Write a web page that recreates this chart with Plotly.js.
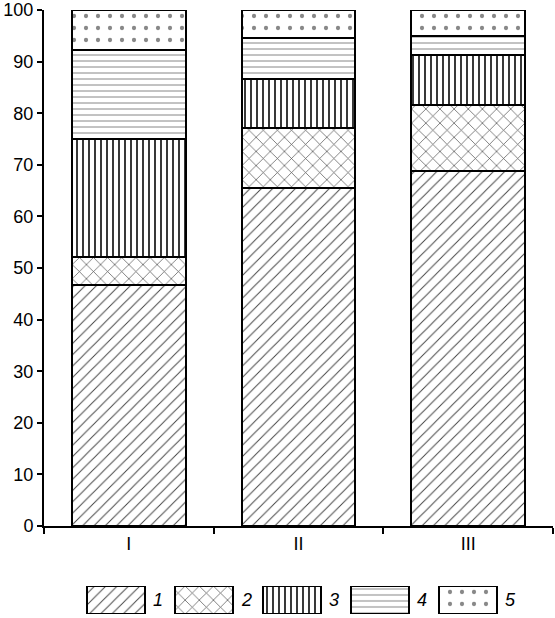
<!DOCTYPE html>
<html>
<head>
<meta charset="utf-8">
<script src="https://cdn.plot.ly/plotly-3.0.1.min.js"></script>
<style>html,body{margin:0;padding:0;background:#fff;}#chart{width:555px;height:618px;}</style>
</head>
<body>
<div id="chart"></div>
<script>
const categories = ["I", "II", "III"];
const seriesNames = ["1", "2", "3", "4", "5"];
const s1 = [46.8, 65.5, 68.8];
const s2 = [5.3, 11.7, 12.7];
const s3 = [22.9, 9.5, 9.8];
const s4 = [17.2, 7.8, 3.6];
const s5 = [7.8, 5.5, 5.1];
const yTicks = [0, 10, 20, 30, 40, 50, 60, 70, 80, 90, 100];

const seriesValues = [s1, s2, s3, s4, s5];
const patterns = [
  {shape: "/", fgcolor: "#444", bgcolor: "#fff", size: 8, solidity: 0.12},
  {shape: "x", fgcolor: "#555", bgcolor: "#fff", size: 10, solidity: 0.14},
  {shape: "|", fgcolor: "#222", bgcolor: "#fff", size: 6, solidity: 0.3},
  {shape: "-", fgcolor: "#777", bgcolor: "#fff", size: 6, solidity: 0.15},
  {shape: ".", fgcolor: "#888", bgcolor: "#fff", size: 12, solidity: 0.1}
];

const traces = seriesValues.map((vals, i) => ({
  type: "bar",
  x: categories,
  y: vals,
  name: seriesNames[i],
  width: 0.67,
  marker: {color: "#fff", pattern: patterns[i], line: {color: "#000", width: 2}},
  showlegend: false,
  hoverinfo: "skip"
}));

// legend swatches drawn as bars in a small second subplot
seriesNames.forEach((n, i) => {
  traces.push({
    type: "bar",
    x: [i],
    y: [1],
    xaxis: "x2",
    yaxis: "y2",
    width: 0.66,
    marker: {color: "#fff", pattern: patterns[i], line: {color: "#000", width: 1.5}},
    showlegend: false,
    hoverinfo: "skip"
  });
});

const annotations = seriesNames.map((n, i) => ({
  xref: "x2", yref: "y2",
  x: i + 0.4, y: 0.5,
  xanchor: "left", yanchor: "middle",
  text: "<i>" + n + "</i>",
  showarrow: false,
  font: {family: "Liberation Sans, Arial, sans-serif", size: 18, color: "#000"}
}));

const layout = {
  width: 555, height: 618,
  margin: {l: 44, r: 2, t: 10, b: 4},
  barmode: "stack",
  bargap: 0,
  paper_bgcolor: "#fff",
  plot_bgcolor: "#fff",
  font: {family: "Liberation Sans, Arial, sans-serif", size: 18, color: "#000"},
  xaxis: {
    domain: [0, 1],
    range: [-0.5, 2.5],
    type: "category",
    tickson: "boundaries",
    ticks: "outside",
    ticklen: 6,
    tickwidth: 2,
    tickcolor: "#000",
    showline: true,
    linecolor: "#000",
    linewidth: 2,
    showgrid: false,
    zeroline: false,
    fixedrange: true
  },
  yaxis: {
    domain: [0.1457, 1],
    range: [0, 100],
    tickvals: yTicks,
    ticktext: yTicks.map(String),
    ticks: "outside",
    ticklen: 5,
    tickwidth: 2,
    tickcolor: "#000",
    ticklabeloverflow: "allow",
    showline: true,
    linecolor: "#000",
    linewidth: 2,
    showgrid: false,
    zeroline: false,
    fixedrange: true
  },
  xaxis2: {
    domain: [0.055, 0.919],
    range: [-0.5, 4.5],
    anchor: "y2",
    visible: false,
    fixedrange: true
  },
  yaxis2: {
    domain: [0, 0.0464],
    range: [0, 1],
    anchor: "x2",
    visible: false,
    fixedrange: true
  },
  annotations: annotations
};

Plotly.newPlot("chart", traces, layout, {displayModeBar: false, staticPlot: true});
</script>
</body>
</html>
